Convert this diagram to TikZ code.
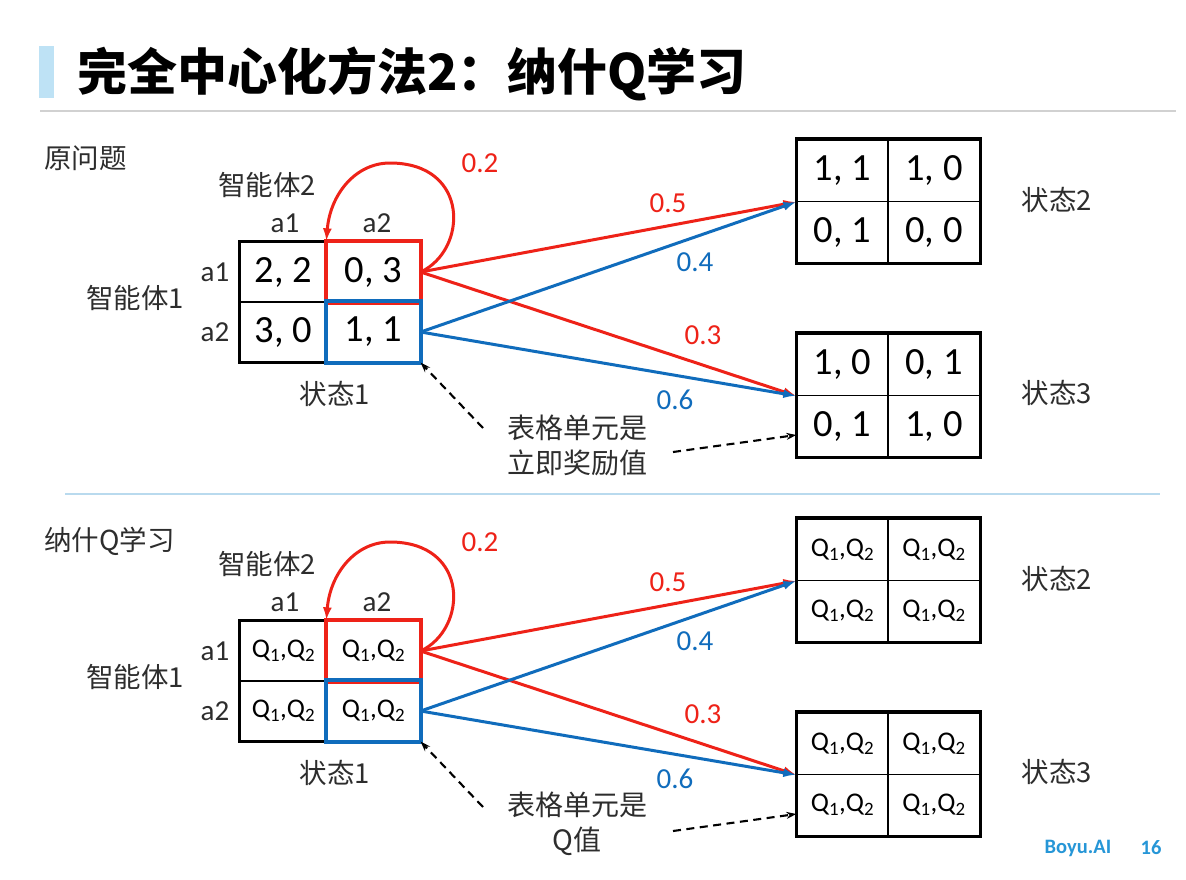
\documentclass[tikz,border=0pt]{standalone}
\usepackage{fontspec}
\setmainfont{Carlito}
\newfontfamily\cjk{Noto Sans CJK SC}
\usetikzlibrary{arrows.meta}
\definecolor{myred}{RGB}{238,34,24}
\definecolor{myblue}{RGB}{16,108,188}
\definecolor{txtgray}{RGB}{45,45,45}
\definecolor{barblue}{RGB}{190,226,245}
\definecolor{divblue}{RGB}{185,218,238}
\definecolor{footblue}{RGB}{38,150,215}
\tikzset{
  cell/.style={draw=black, line width=1.3pt, inner sep=0pt, minimum height=60pt},
  numfont/.style={font=\fontsize{38.5}{40}\selectfont},
  qfont/.style={font=\fontsize{27}{30}\selectfont},
  lab/.style={font=\cjk\fontsize{27.5}{30}\selectfont, text=txtgray, inner sep=0pt},
  alab/.style={font=\fontsize{29}{32}\selectfont, text=txtgray, inner sep=0pt},
  prob/.style={font=\fontsize{29}{32}\selectfont, inner sep=0pt},
  outer/.style={draw=black, line width=3.4pt},
  hibox/.style={line width=3.8pt},
  trans/.style={line width=3pt, -{Latex[length=13pt,width=9pt]}},
  note/.style={line width=2.1pt, dash pattern=on 8pt off 5.5pt, -{Stealth[length=10pt,width=7pt]}},
}
\newcommand\qq{Q\textsubscript{1},Q\textsubscript{2}}
% #1 prefix, #2 vertical offset, #3 note text, #4 cell font style
\newcommand\halfdiagram[4]{%
\begin{scope}[yshift=-#2pt]
  % left matrix
  \node[cell,#4,minimum width=87pt] (#1c11) at (283.5,272) {\vA};
  \node[cell,#4,minimum width=93pt] (#1c12) at (373.5,272) {\vB};
  \node[cell,#4,minimum width=87pt] (#1c21) at (283.5,332) {\vC};
  \node[cell,#4,minimum width=93pt] (#1c22) at (373.5,332) {\vD};
  \draw[outer] (#1c11.north west) rectangle (#1c22.south east);
  \draw[hibox, draw=myred] (#1c12.north west) rectangle (#1c12.south east);
  \draw[hibox, draw=myblue] (#1c22.north west) rectangle (#1c22.south east);
  % state 2
  \node[cell,#4,minimum width=91pt,minimum height=61.5pt] (#1s2a) at (842.5,170.5) {\vE};
  \node[cell,#4,minimum width=92pt,minimum height=61.5pt] (#1s2b) at (934,170.5) {\vF};
  \node[cell,#4,minimum width=91pt,minimum height=61.5pt] (#1s2c) at (842.5,232) {\vG};
  \node[cell,#4,minimum width=92pt,minimum height=61.5pt] (#1s2d) at (934,232) {\vH};
  \draw[outer] (#1s2a.north west) rectangle (#1s2d.south east);
  % state 3
  \node[cell,#4,minimum width=91pt,minimum height=61.5pt] (#1s3a) at (842.5,364.5) {\vI};
  \node[cell,#4,minimum width=92pt,minimum height=61.5pt] (#1s3b) at (934,364.5) {\vJ};
  \node[cell,#4,minimum width=91pt,minimum height=61.5pt] (#1s3c) at (842.5,426) {\vK};
  \node[cell,#4,minimum width=92pt,minimum height=61.5pt] (#1s3d) at (934,426) {\vL};
  \draw[outer] (#1s3a.north west) rectangle (#1s3d.south east);
  % labels
  \node[lab] (#1ag2) at (267,185) {智能体2};
  \node[alab] (#1ca1) at (285,223) {a1};
  \node[alab] (#1ca2) at (377,223) {a2};
  \node[alab] (#1ra1) at (215,272) {a1};
  \node[alab] (#1ra2) at (215,332) {a2};
  \node[lab] (#1ag1) at (135,298) {智能体1};
  \node[lab] (#1st1) at (335,394) {状态1};
  \node[lab] (#1st2) at (1057,200) {状态2};
  \node[lab] (#1st3) at (1057,393) {状态3};
  % transitions
  \draw[trans, myred] (#1c12.east) .. controls (468,250) and (470,163) .. (390,163)
        .. controls (355,163) and (330,195) .. (#1c12.north west);
  \draw[trans, myred] (#1c12.east) -- (#1s2a.south west);
  \draw[trans, myred] (#1c12.east) -- (#1s3a.south west);
  \draw[trans, myblue] (#1c22.east) -- (#1s2a.south west);
  \draw[trans, myblue] (#1c22.east) -- (#1s3a.south west);
  \node[prob, text=myred] (#1p02) at (480,163) {0.2};
  \node[prob, text=myred] (#1p05) at (668,203) {0.5};
  \node[prob, text=myblue] (#1p04) at (695,262) {0.4};
  \node[prob, text=myred] (#1p03) at (703,335) {0.3};
  \node[prob, text=myblue] (#1p06) at (675,400) {0.6};
  % note
  \node[lab, align=center, font=\cjk\fontsize{28}{35}\selectfont] (#1note) at (577,445) {#3};
  \coordinate (#1d1) at (483,428);
  \coordinate (#1d2) at (673,452);
  \draw[note] (#1d1) -- (#1c22.south east);
  \draw[note] (#1d2) -- ([yshift=-9pt]#1s3c.west);
\end{scope}}
\begin{document}
\begin{tikzpicture}[x=1pt,y=-1pt]
\useasboundingbox (0,0) rectangle (1186,879);
\fill[white] (0,0) rectangle (1186,879);
% title
\fill[barblue] (39,46) rectangle (54,98);
\node[anchor=west, inner sep=0pt, font=\cjk\bfseries\fontsize{50}{56}\selectfont] (title) at (77,74) {完全中心化方法2：纳什Q学习};
\draw[black!18, line width=2pt] (40,111) -- (1176,111);
\draw[divblue, line width=1.3pt] (65,494) -- (1160,494);
% section labels
\node[lab, anchor=west] (sec1) at (44,158) {原问题};
\node[lab, anchor=west] (sec2) at (44,541) {纳什Q学习};
% top half
\def\vA{2, 2}\def\vB{0, 3}\def\vC{3, 0}\def\vD{1, 1}
\def\vE{1, 1}\def\vF{1, 0}\def\vG{0, 1}\def\vH{0, 0}
\def\vI{1, 0}\def\vJ{0, 1}\def\vK{0, 1}\def\vL{1, 0}
\halfdiagram{t}{0}{表格单元是\\立即奖励值}{numfont}
% bottom half
\def\vA{\qq}\def\vB{\qq}\def\vC{\qq}\def\vD{\qq}
\def\vE{\qq}\def\vF{\qq}\def\vG{\qq}\def\vH{\qq}
\def\vI{\qq}\def\vJ{\qq}\def\vK{\qq}\def\vL{\qq}
\halfdiagram{b}{379}{表格单元是\\Q值}{qfont}
% footer
\node[font=\bfseries\fontsize{20.5}{22}\selectfont, text=footblue, inner sep=0pt] (foot1) at (1078,848) {Boyu.AI};
\node[font=\bfseries\fontsize{20.5}{22}\selectfont, text=footblue, inner sep=0pt] (foot2) at (1151,848) {16};
\end{tikzpicture}
\end{document}
